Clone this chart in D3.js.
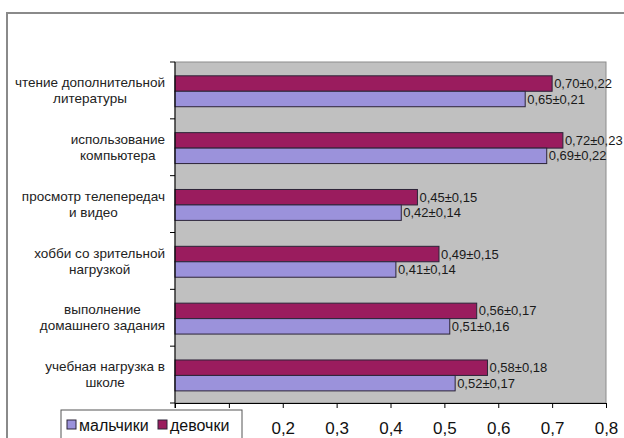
<!DOCTYPE html>
<html>
<head>
<meta charset="utf-8">
<script src="https://cdn.jsdelivr.net/npm/d3@7/dist/d3.min.js"></script>
<style>
  html, body { margin: 0; padding: 0; background: #fff; }
  svg { display: block; font-family: "Liberation Sans", Arial, sans-serif; }
</style>
</head>
<body>
<svg id="chart" width="624" height="438"></svg>
<script>
// Category labels, already split into the lines they are drawn on
const categories = [
  ["чтение дополнительной", "литературы"],
  ["использование", "компьютера"],
  ["просмотр телепередач", "и видео"],
  ["хобби со зрительной", "нагрузкой"],
  ["выполнение", "домашнего задания"],
  ["учебная нагрузка в", "школе"]
];
const seriesNames = ["мальчики", "девочки"];
const boys = [0.65, 0.69, 0.42, 0.41, 0.51, 0.52];
const boysSd = [0.21, 0.22, 0.14, 0.14, 0.16, 0.17];
const girls = [0.70, 0.72, 0.45, 0.49, 0.56, 0.58];
const girlsSd = [0.22, 0.23, 0.15, 0.15, 0.17, 0.18];
const xTicks = [0, 0.1, 0.2, 0.3, 0.4, 0.5, 0.6, 0.7, 0.8];

const colBoys = "#9b92db";
const colGirls = "#9a1c5e";
const barStroke = "#2c2438";

const svg = d3.select("#chart");
const plot = { left: 175, right: 606, top: 62, bottom: 403 };
const legendBox = { x: 61, y: 410, w: 181, h: 36 };

const x = d3.scaleLinear().domain([0, 0.8]).range([plot.left, plot.right]);
const y = d3.scaleBand().domain(d3.range(categories.length)).range([plot.top, plot.bottom]).padding(0);
const bw = y.bandwidth();
const barH = bw * 0.272;
const barOff = bw * 0.243;

const fmt = v => d3.format(".2f")(v).replace(".", ",");

// Outer chart frame (top and left edges)
svg.append("path")
  .attr("d", "M7,440 L7,13 L626,13")
  .attr("fill", "none").attr("stroke", "#8a8a8a").attr("stroke-width", 2);

// Plot area
svg.append("rect")
  .attr("x", plot.left).attr("y", plot.top)
  .attr("width", plot.right - plot.left).attr("height", plot.bottom - plot.top)
  .attr("fill", "#c0c0c0").attr("stroke", "#8c8c8c").attr("stroke-width", 1);

const rows = d3.range(categories.length);

// Girls bars (upper bar of each pair)
svg.append("g").selectAll("rect").data(rows).join("rect")
  .attr("x", x(0)).attr("y", i => y(i) + barOff)
  .attr("width", i => x(girls[i]) - x(0)).attr("height", barH)
  .attr("fill", colGirls).attr("stroke", barStroke).attr("stroke-width", 1);

// Boys bars (lower bar of each pair)
svg.append("g").selectAll("rect").data(rows).join("rect")
  .attr("x", x(0)).attr("y", i => y(i) + barOff + barH)
  .attr("width", i => x(boys[i]) - x(0)).attr("height", barH)
  .attr("fill", colBoys).attr("stroke", barStroke).attr("stroke-width", 1);

// Value labels: mean ± SD
const valG = svg.append("g").attr("font-size", 13).attr("fill", "#1a1a1a");
valG.selectAll("text.g").data(rows).join("text").attr("class", "g")
  .attr("x", i => x(girls[i]) + 2)
  .attr("y", i => y(i) + barOff + barH / 2)
  .attr("dy", "0.35em")
  .text(i => fmt(girls[i]) + "±" + fmt(girlsSd[i]));
valG.selectAll("text.b").data(rows).join("text").attr("class", "b")
  .attr("x", i => x(boys[i]) + 2)
  .attr("y", i => y(i) + barOff + barH * 1.5)
  .attr("dy", "0.35em")
  .text(i => fmt(boys[i]) + "±" + fmt(boysSd[i]));

// Category axis: line and tick marks on band boundaries
const yAxisG = svg.append("g");
yAxisG.append("line")
  .attr("x1", plot.left).attr("x2", plot.left)
  .attr("y1", plot.top).attr("y2", plot.bottom + 5)
  .attr("stroke", "#000");
yAxisG.selectAll("line.t").data(d3.range(categories.length + 1)).join("line").attr("class", "t")
  .attr("x1", plot.left - 5).attr("x2", plot.left)
  .attr("y1", i => plot.top + i * bw).attr("y2", i => plot.top + i * bw)
  .attr("stroke", "#000");

// Category labels: each block right-aligned, its lines centred on each other
const catG = svg.append("g").attr("font-size", 13.5).attr("fill", "#222");
rows.forEach(i => {
  const lines = categories[i];
  const tmp = catG.append("g");
  const texts = lines.map((s, k) => tmp.append("text")
    .attr("text-anchor", "middle")
    .attr("y", y(i) + bw / 2 + (k - (lines.length - 1) / 2) * 16)
    .attr("dy", "0.35em")
    .text(s));
  const widths = texts.map(t => t.node().getComputedTextLength());
  const maxW = d3.max(widths);
  const cx = 165 - maxW / 2;
  texts.forEach(t => t.attr("x", cx));
});

// Value axis
const xAxis = d3.axisBottom(x).tickValues(xTicks).tickSize(5)
  .tickFormat(d => d === 0 ? "0" : d3.format(".1f")(d).replace(".", ","));
const xg = svg.append("g").attr("transform", `translate(0,${plot.bottom})`).call(xAxis);
xg.select(".domain").attr("stroke", "#000");
xg.selectAll(".tick line").attr("stroke", "#000");
xg.selectAll(".tick text").attr("font-size", 17).attr("font-family", "\"Liberation Sans\", Arial, sans-serif")
  .attr("fill", "#111").attr("y", 19);
// The legend box is drawn over the lowest tick labels, so those are left out
xg.selectAll(".tick").filter(d => x(d) < legendBox.x + legendBox.w + 5).select("text").remove();

// Legend
const lg = svg.append("g");
lg.append("rect").attr("x", legendBox.x).attr("y", legendBox.y).attr("width", legendBox.w).attr("height", legendBox.h)
  .attr("fill", "#fff").attr("stroke", "#555").attr("stroke-width", 1);
const legendItems = [
  { name: seriesNames[0], color: colBoys, x: 67 },
  { name: seriesNames[1], color: colGirls, x: 158 }
];
legendItems.forEach(it => {
  lg.append("rect").attr("x", it.x).attr("y", 420).attr("width", 9).attr("height", 9)
    .attr("fill", it.color).attr("stroke", barStroke).attr("stroke-width", 1);
  lg.append("text").attr("x", it.x + 12).attr("y", 425).attr("dy", "0.35em")
    .attr("font-size", 16).attr("fill", "#111").text(it.name);
});
</script>
</body>
</html>
